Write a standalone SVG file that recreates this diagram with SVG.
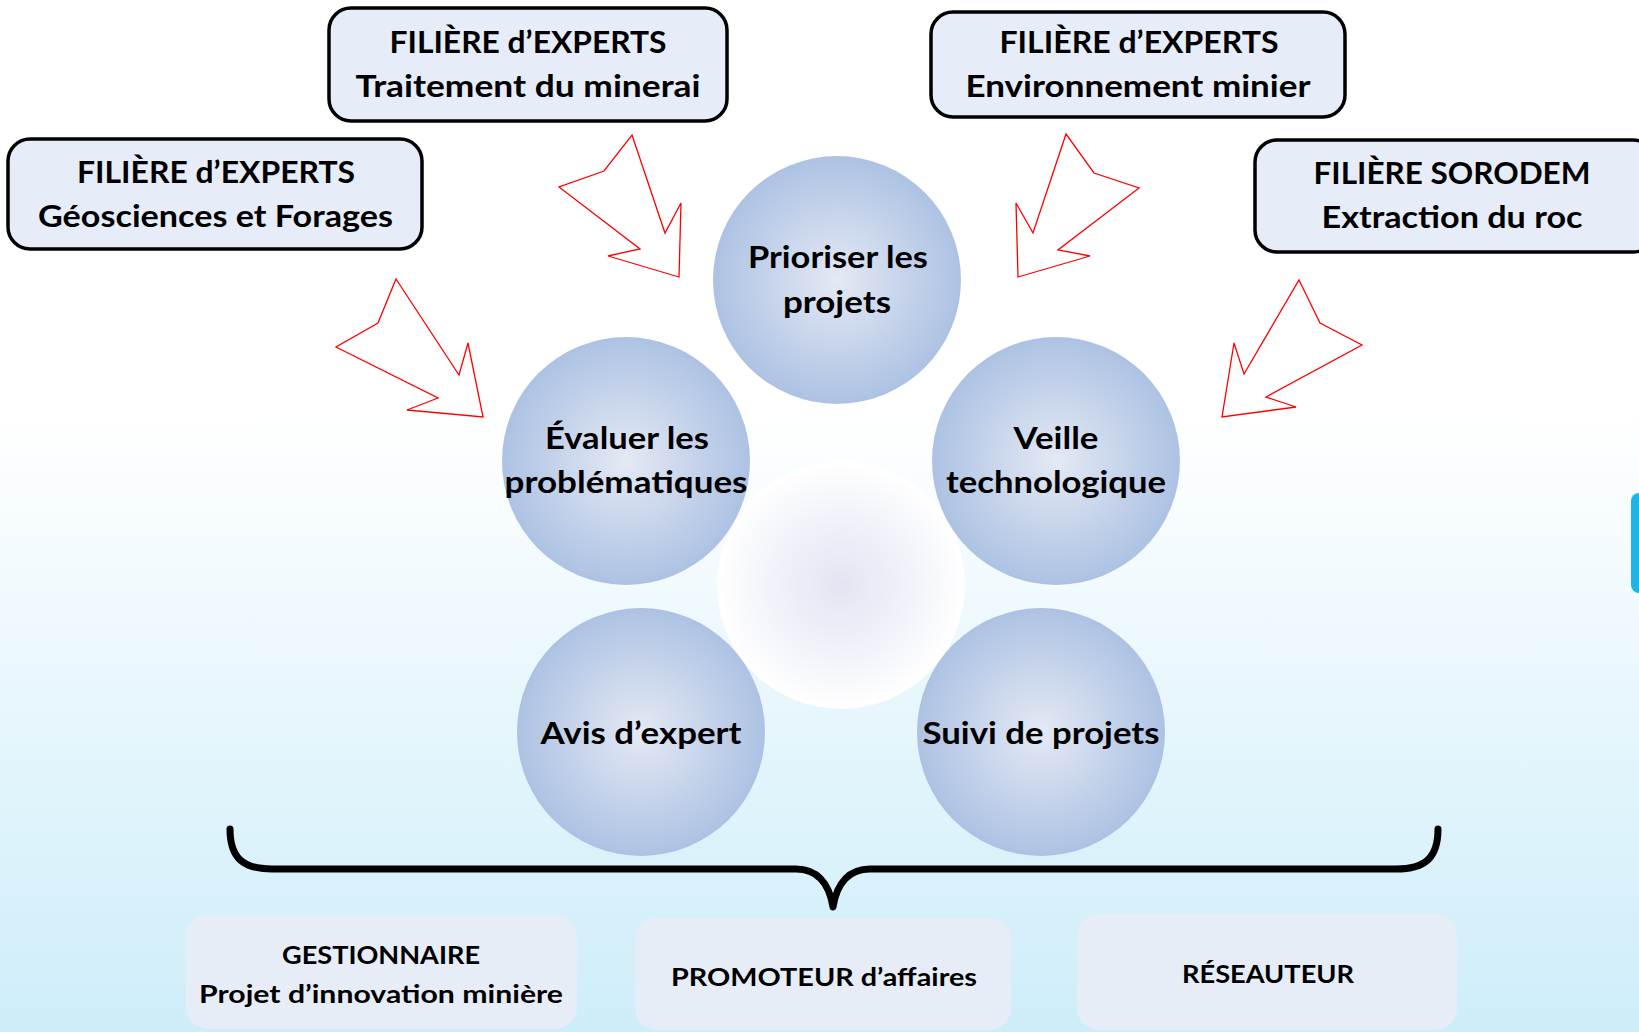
<svg xmlns="http://www.w3.org/2000/svg" width="1639" height="1032" viewBox="0 0 1639 1032">
<defs>
<linearGradient id="bg" x1="0" y1="0" x2="0" y2="1">
<stop offset="0" stop-color="#ffffff"/>
<stop offset="0.4" stop-color="#ffffff"/>
<stop offset="1" stop-color="#cdedf9"/>
</linearGradient>
<radialGradient id="ball" cx="0.5" cy="0.5" r="0.5">
<stop offset="0" stop-color="#e4e9f4"/>
<stop offset="1" stop-color="#adc2e3"/>
</radialGradient>
<radialGradient id="ghost" cx="0.5" cy="0.5" r="0.5">
<stop offset="0" stop-color="#e2e5f1"/>
<stop offset="0.6" stop-color="#f2f4fa"/>
<stop offset="1" stop-color="#ffffff"/>
</radialGradient>
<style>
.tb{fill:#e6edf8;stroke:#000;stroke-width:3.5}
.bb{fill:#e6edf7;stroke:none}
.ball{fill:url(#ball)}
.t{font-family:Lato,"Open Sans","DejaVu Sans",sans-serif;font-weight:700;font-size:30px;fill:#000;text-anchor:middle}
.s{font-family:Lato,"Open Sans","DejaVu Sans",sans-serif;font-weight:700;font-size:25.5px;fill:#000;text-anchor:middle}
.arr{fill:none;stroke:#ff0000;stroke-width:1.3;stroke-linejoin:miter}
.brace{fill:none;stroke:#000;stroke-width:7;stroke-linecap:round;stroke-linejoin:round}
</style>
</defs>
<rect x="0" y="0" width="1639" height="1032" fill="url(#bg)"/>
<rect x="1631" y="493" width="24" height="100" rx="8" fill="#1db5e8"/>

<g id="box-traitement">
<rect class="tb" x="329" y="8" width="398" height="113" rx="22"/>
<text class="t" x="528" y="53" textLength="277" lengthAdjust="spacingAndGlyphs">FILIÈRE d’EXPERTS</text>
<text class="t" x="528" y="97" textLength="345" lengthAdjust="spacingAndGlyphs">Traitement du minerai</text>
</g>
<g id="box-geosciences">
<rect class="tb" x="8" y="139" width="414" height="110" rx="22"/>
<text class="t" x="216" y="183" textLength="278" lengthAdjust="spacingAndGlyphs">FILIÈRE d’EXPERTS</text>
<text class="t" x="215.5" y="227" textLength="355" lengthAdjust="spacingAndGlyphs">Géosciences et Forages</text>
</g>
<g id="box-environnement">
<rect class="tb" x="931" y="12" width="414" height="105" rx="22"/>
<text class="t" x="1139" y="53" textLength="279" lengthAdjust="spacingAndGlyphs">FILIÈRE d’EXPERTS</text>
<text class="t" x="1138" y="97" textLength="345" lengthAdjust="spacingAndGlyphs">Environnement minier</text>
</g>
<g id="box-sorodem">
<rect class="tb" x="1255" y="140" width="400" height="112" rx="22"/>
<text class="t" x="1452" y="184" textLength="277" lengthAdjust="spacingAndGlyphs">FILIÈRE SORODEM</text>
<text class="t" x="1452" y="228" textLength="261" lengthAdjust="spacingAndGlyphs">Extraction du roc</text>
</g>

<g id="connectors">
<polygon class="arr" points="396,279 459,375 468,343 483,417 407,410 438,398 336,347 378,323"/>
<polygon class="arr" points="632,135 665,233 681,203 679,277 608,256 640,249 559,187 604,171"/>
<polygon class="arr" points="1066,134 1094,173 1139,188 1058,250 1090,256 1018,277 1016,203 1033,233"/>
<polygon class="arr" points="1299,280 1320,323 1362,345 1266,397 1296,407 1222,417 1234,343 1244,374"/>
<path class="brace" d="M230,829 C230,858 243,869 272,869 L796,869 C816,869 829,882 833,907 C837,882 850,869 870,869 L1396,869 C1425,869 1438,858 1438,829"/>
</g>

<g id="center-halo">
<circle cx="841" cy="585" r="124" fill="url(#ghost)"/>
</g>
<g id="node-prioriser">
<circle class="ball" cx="837" cy="280" r="124"/>
<text class="t" x="838" y="268" textLength="180" lengthAdjust="spacingAndGlyphs">Prioriser les</text>
<text class="t" x="837" y="313" textLength="108" lengthAdjust="spacingAndGlyphs">projets</text>
</g>
<g id="node-evaluer">
<circle class="ball" cx="626" cy="461" r="124"/>
<text class="t" x="627" y="449" textLength="164" lengthAdjust="spacingAndGlyphs">Évaluer les</text>
<text class="t" x="626" y="493" textLength="243" lengthAdjust="spacingAndGlyphs">problématiques</text>
</g>
<g id="node-veille">
<circle class="ball" cx="1056" cy="461" r="124"/>
<text class="t" x="1056" y="449" textLength="85" lengthAdjust="spacingAndGlyphs">Veille</text>
<text class="t" x="1056" y="493" textLength="220" lengthAdjust="spacingAndGlyphs">technologique</text>
</g>
<g id="node-avis">
<circle class="ball" cx="641" cy="732" r="124"/>
<text class="t" x="641" y="744" textLength="201" lengthAdjust="spacingAndGlyphs">Avis d’expert</text>
</g>
<g id="node-suivi">
<circle class="ball" cx="1041" cy="732" r="124"/>
<text class="t" x="1041" y="744" textLength="237" lengthAdjust="spacingAndGlyphs">Suivi de projets</text>
</g>

<g id="role-gestionnaire">
<rect class="bb" x="186" y="915" width="391" height="114" rx="22"/>
<text class="s" x="381" y="964" textLength="198" lengthAdjust="spacingAndGlyphs">GESTIONNAIRE</text>
<text class="s" x="381" y="1003" textLength="364" lengthAdjust="spacingAndGlyphs">Projet d’innovation minière</text>
</g>
<g id="role-promoteur">
<rect class="bb" x="635" y="918" width="376" height="112" rx="22"/>
<text class="s" x="824" y="986" textLength="306" lengthAdjust="spacingAndGlyphs">PROMOTEUR d’affaires</text>
</g>
<g id="role-reseauteur">
<rect class="bb" x="1077" y="914" width="380" height="116" rx="22"/>
<text class="s" x="1268" y="983" textLength="172" lengthAdjust="spacingAndGlyphs">RÉSEAUTEUR</text>
</g>
</svg>
